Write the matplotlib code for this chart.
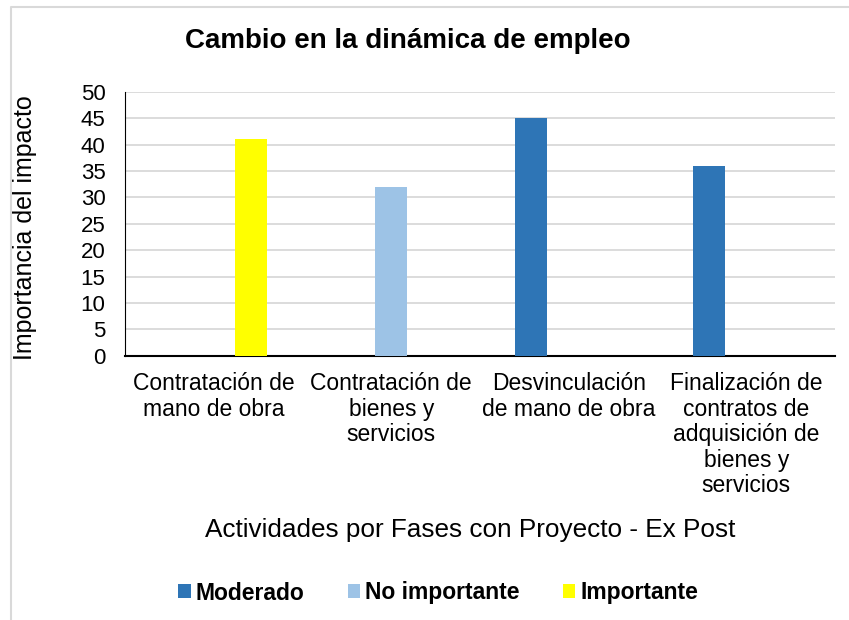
import matplotlib.pyplot as plt
import numpy as np

categorias = ["Contratación de\nmano de obra",
              "Contratación de\nbienes y\nservicios",
              "Desvinculación\nde mano de obra",
              "Finalización de\ncontratos de\nadquisición de\nbienes y\nservicios"]
moderado = [0, 0, 45, 36]
no_importante = [0, 32, 0, 0]
importante = [41, 0, 0, 0]

plt.rcParams['font.family'] = ['Liberation Sans', 'DejaVu Sans']

W, H = 849, 620
fig = plt.figure(figsize=(W / 100, H / 100), dpi=100)
ax = fig.add_axes([125 / W, 1 - 355.7 / H, 710 / W, 263.7 / H])

x = np.arange(len(categorias))
ancho = 0.18
paso = 0.21
ax.bar(x - paso, moderado, ancho, color='#2E75B6', label='Moderado', zorder=3)
ax.bar(x, no_importante, ancho, color='#9DC3E6', label='No importante', zorder=3)
ax.bar(x + paso, importante, ancho, color='#FFFF00', label='Importante', zorder=3)

ax.set_xlim(-0.5, len(categorias) - 0.5)
ax.set_ylim(0, 50)
ax.set_yticks(range(0, 51, 5))
ax.set_xticks(x)
ax.set_xticklabels(categorias, fontsize=16.5, linespacing=1.14, va='top')
ax.tick_params(axis='y', labelsize=16, length=0, pad=14)
ax.tick_params(axis='x', length=0, pad=12)
ax.grid(axis='y', color='#D9D9D9', linewidth=1.3, zorder=0)

for lado in ['top', 'right']:
    ax.spines[lado].set_visible(False)
ax.spines['left'].set_color('black')
ax.spines['bottom'].set_color('black')
ax.spines['bottom'].set_linewidth(1.5)

# títulos
fig.text(25 / W, 1 - 228 / H, 'Importancia del impacto', fontsize=18,
         rotation=90, ha='center', va='center')
fig.text(470 / W, 1 - 530 / H, 'Actividades por Fases con Proyecto - Ex Post',
         fontsize=18.8, ha='center', va='center')
fig.text(408 / W, 1 - 41 / H, 'Cambio en la dinámica de empleo',
         fontsize=20, fontweight='bold', ha='center', va='center')

# marco del área del gráfico
borde = plt.Line2D([10.5 / W, 10.5 / W, 1], [0, 1 - 7 / H, 1 - 7 / H],
                   transform=fig.transFigure, color='#D9D9D9', linewidth=1.5)
fig.add_artist(borde)

fig.legend(loc='center', bbox_to_anchor=(438 / W, 1 - 593 / H), ncol=3,
           frameon=False, prop={'size': 16.5, 'weight': 'bold'},
           handlelength=0.55, handleheight=0.55, handletextpad=0.2,
           columnspacing=1.9)

fig.savefig('out.png', dpi=100)
